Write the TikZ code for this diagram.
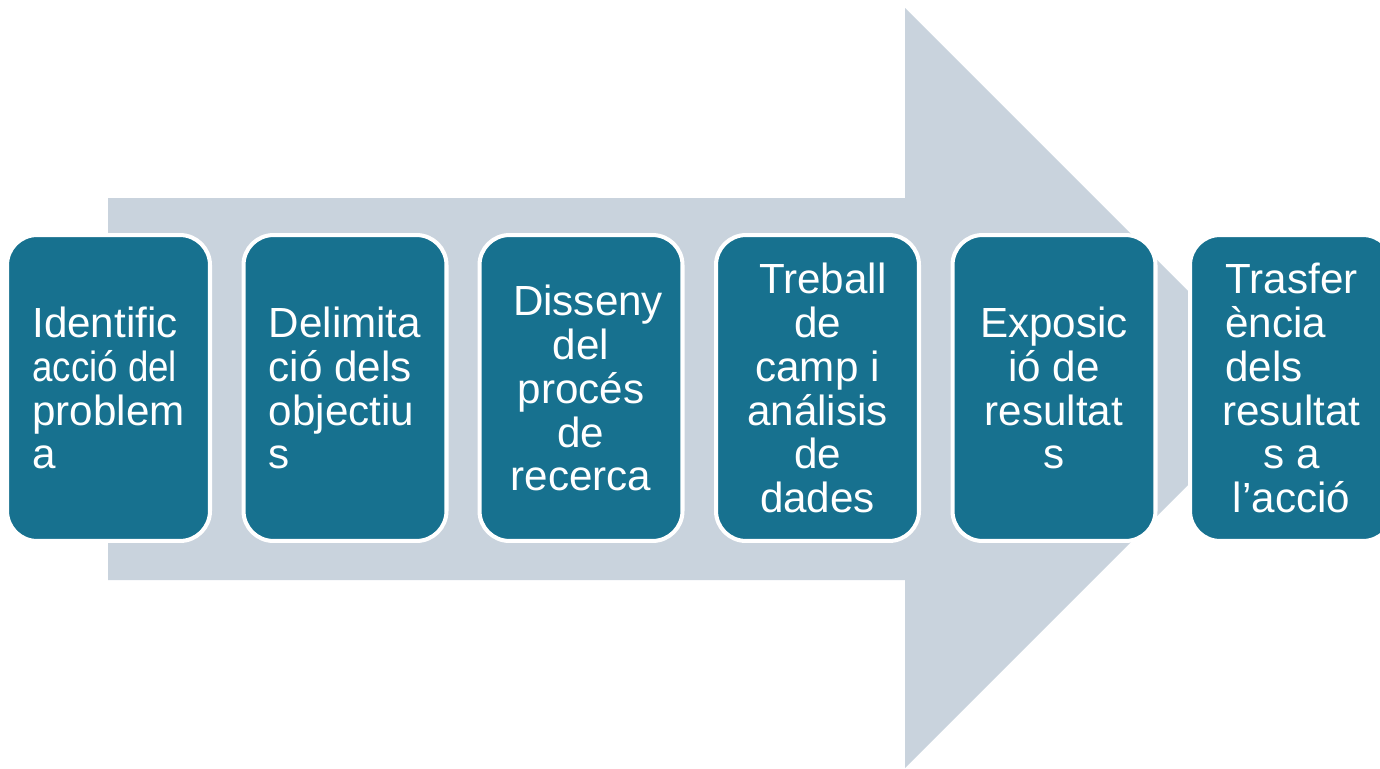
\documentclass[tikz,border=0pt]{standalone}
\usepackage{fontspec}
\setmainfont{Liberation Sans}
\usepackage{tikz}
\definecolor{fletxa}{HTML}{C9D3DD}
\definecolor{blaufosc}{HTML}{17718F}

\begin{document}
\begin{tikzpicture}[x=0.02cm,y=-0.02cm,
  etapa/.style={draw=white,line width=2.3pt,fill=blaufosc,text=white,
    rounded corners=0.6cm,minimum width=4.06cm,minimum height=6.12cm,
    inner sep=0pt,font=\fontsize{24}{25}\selectfont}]
\useasboundingbox (0,0) rectangle (1380,768);
% fletxa de fons
\fill[fletxa] (108,198)--(905,198)--(905,8)--(1285,388)--(905,768)--(905,580)--(108,580)--cycle;
% etapes
\node[etapa,align=left] (ident) at (108.5,388) {Identific\\\scalebox{0.87}[1]{acció del}\\problem\\a};
\node[etapa,align=left] (delim) at (345,388) {Delimita\\ció dels\\objectiu\\s};
\node[etapa,align=center] (disseny) at (581,388) {\hspace*{8pt}Disseny\\del\\procés\\de\\recerca};
\node[etapa,align=center] (treball) at (817.5,388) {\hspace*{6pt}Treball\\de\\camp i\\análisis\\de\\dades};
\node[etapa,align=center] (expos) at (1054,388) {Exposic\\ió de\\resultat\\s};
\node[etapa,align=center] (trasf) at (1291.5,388) {Trasfer\\\rlap{ència}\phantom{Trasfer}\\\rlap{dels}\phantom{Trasfer}\\resultat\\s a\\l’acció};
\end{tikzpicture}
\end{document}
